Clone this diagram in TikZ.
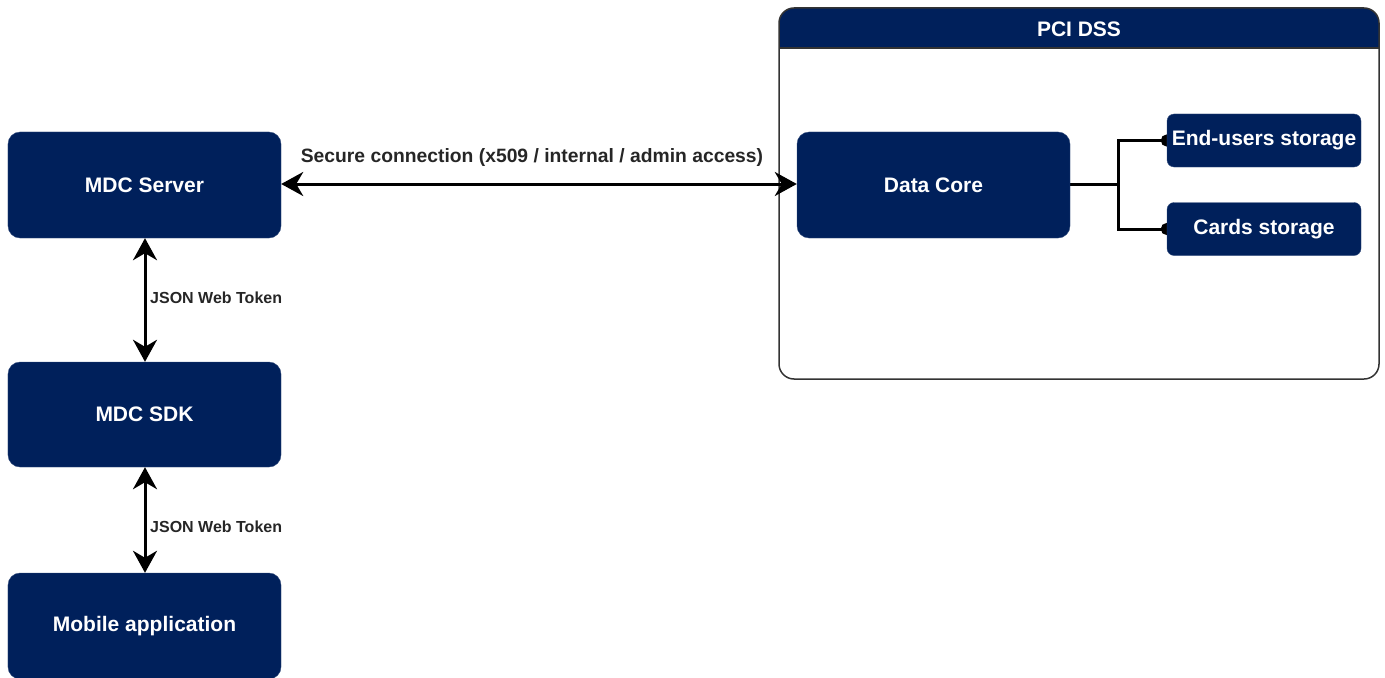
\documentclass[tikz,border=0pt]{standalone}
\usepackage{fontspec}
\setmainfont{Liberation Sans}
\usetikzlibrary{arrows.meta,backgrounds}
\definecolor{navy}{RGB}{0,32,91}
\begin{document}
\begin{tikzpicture}[x=1bp,y=-1bp,
  box/.style={fill=navy,draw=navy!80!white,rounded corners=12bp,text=white,font=\fontsize{21bp}{24bp}\selectfont\bfseries,inner sep=0pt},
  conn/.style={line width=3bp,{Stealth[length=22bp,width=24bp,inset=7bp]}-{Stealth[length=22bp,width=24bp,inset=7bp]}},
  dotconn/.style={line width=3bp,-{Circle[length=12bp]},shorten >=-6bp},
  lbl/.style={font=\fontsize{16bp}{19bp}\selectfont\bfseries,text=black!85,inner sep=0pt}]
\useasboundingbox (0,0) rectangle (1385,678);
% PCI DSS container
\begin{scope}
\clip[rounded corners=15bp] (779,8) rectangle (1379,379);
\fill[navy] (779,8) rectangle (1379,48);
\end{scope}
\draw[line width=1.5bp,draw=black!80,rounded corners=15bp] (779,8) rectangle (1379,379);
\draw[line width=1.5bp,draw=black!80] (779,48) -- (1379,48);
\node[text=white,font=\fontsize{21bp}{24bp}\selectfont\bfseries] (pci) at (1079,29) {PCI DSS};
% Boxes
\node[box,minimum width=273bp,minimum height=106bp] (server) at (144.5,185) {MDC Server};
\node[box,minimum width=273bp,minimum height=105bp] (sdk) at (144.5,414.5) {MDC SDK};
\node[box,minimum width=273bp,minimum height=106bp] (mobile) at (144.5,626) {Mobile application};
\node[box,minimum width=273bp,minimum height=106bp] (core) at (933.5,185) {Data Core};
\node[box,rounded corners=7bp,minimum width=194bp,minimum height=53bp] (users) at (1264,140.5) {\raisebox{-1.5bp}{End-users storage}};
\node[box,rounded corners=7bp,minimum width=194bp,minimum height=53bp] (cards) at (1264,229) {\raisebox{-1.5bp}{Cards storage}};
% Connectors
\draw[conn] (server.east |- 0,184) -- (core.west |- 0,184);
\node[lbl,font=\fontsize{19.3bp}{22bp}\selectfont\bfseries] (seclbl) at (532,158) {Secure connection (x509 / internal / admin access)};
\draw[conn] (server.south -| 145,0) -- (sdk.north -| 145,0);
\node[lbl,anchor=west] (jwt1) at (150,298) {JSON Web Token};
\draw[conn] (sdk.south -| 145,0) -- (mobile.north -| 145,0);
\node[lbl,anchor=west] (jwt2) at (150,527) {JSON Web Token};
\coordinate (split) at (1118,184);
\begin{scope}[on background layer]
\draw[line width=3bp] (core.east |- 0,184) -- (split);
\draw[dotconn] (split) |- (users.west);
\draw[dotconn] (split) |- (cards.west);
\end{scope}
\end{tikzpicture}
\end{document}
